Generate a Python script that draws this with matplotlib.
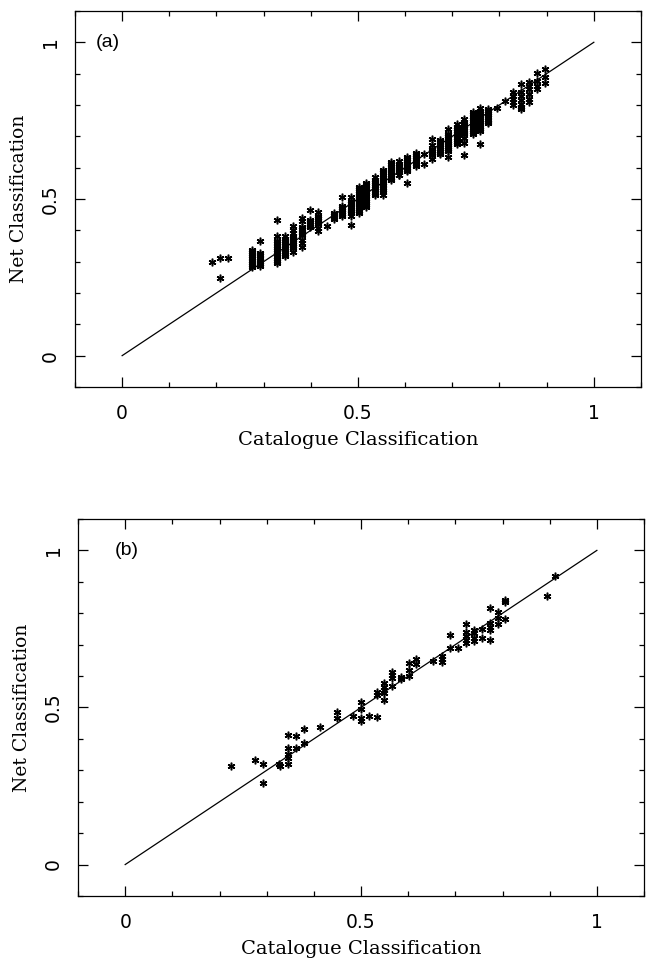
import numpy as np
import matplotlib
matplotlib.use("Agg")
import matplotlib.pyplot as plt
from matplotlib.ticker import MultipleLocator, FixedLocator

# panel (a): catalogue value of each column and the net outputs read in it
cat_a = [0.190, 0.207, 0.224, 0.275, 0.292, 0.328, 0.345, 0.363, 0.381, 0.398,
         0.416, 0.434, 0.450, 0.467, 0.485, 0.502, 0.518, 0.536, 0.552, 0.570,
         0.587, 0.604, 0.622, 0.640, 0.656, 0.674, 0.691, 0.709, 0.725, 0.743,
         0.758, 0.776, 0.794, 0.811, 0.829, 0.845, 0.862, 0.879, 0.896]
net_a = [
    [0.298],
    [0.311, 0.248],
    [0.311],
    [0.282, 0.289, 0.296, 0.303, 0.310, 0.317, 0.324, 0.331, 0.338],
    [0.285, 0.292, 0.299, 0.306, 0.313, 0.320, 0.328, 0.365],
    [0.434, 0.381, 0.365, 0.358, 0.351, 0.344, 0.337, 0.330, 0.323, 0.316, 0.309, 0.302, 0.296],
    [0.317, 0.324, 0.331, 0.338, 0.345, 0.352, 0.359, 0.366, 0.373, 0.381],
    [0.413, 0.402, 0.390, 0.383, 0.376, 0.369, 0.362, 0.355, 0.350, 0.343, 0.330],
    [0.440, 0.430, 0.410, 0.403, 0.396, 0.390, 0.384, 0.370, 0.358, 0.346],
    [0.466, 0.434, 0.427, 0.420, 0.414, 0.409],
    [0.457, 0.447, 0.440, 0.433, 0.426, 0.420, 0.407, 0.397],
    [0.415],
    [0.456, 0.450, 0.443, 0.437],
    [0.507, 0.479, 0.472, 0.465, 0.458, 0.451, 0.445],
    [0.507, 0.493, 0.487, 0.480, 0.473, 0.466, 0.460, 0.455, 0.446, 0.417],
    [0.539, 0.532, 0.525, 0.518, 0.511, 0.504, 0.497, 0.490, 0.483, 0.476, 0.469, 0.462, 0.456],
    [0.550, 0.543, 0.536, 0.529, 0.522, 0.515, 0.508, 0.501, 0.494, 0.487, 0.480, 0.473],
    [0.569, 0.562, 0.555, 0.548, 0.541, 0.534, 0.527, 0.520, 0.514],
    [0.592, 0.585, 0.578, 0.571, 0.564, 0.557, 0.550, 0.543, 0.536, 0.529, 0.522, 0.514],
    [0.617, 0.610, 0.603, 0.596, 0.589, 0.582, 0.575, 0.568, 0.560],
    [0.620, 0.613, 0.606, 0.599, 0.592, 0.585, 0.578, 0.575],
    [0.635, 0.628, 0.621, 0.614, 0.607, 0.600, 0.594, 0.589, 0.552],
    [0.647, 0.640, 0.633, 0.626, 0.619, 0.612, 0.605],
    [0.642, 0.610],
    [0.690, 0.672, 0.660, 0.653, 0.646, 0.640, 0.626],
    [0.688, 0.681, 0.674, 0.667, 0.660, 0.653, 0.646, 0.642],
    [0.722, 0.706, 0.700, 0.693, 0.686, 0.679, 0.672, 0.666, 0.660, 0.653, 0.635],
    [0.738, 0.731, 0.724, 0.717, 0.710, 0.703, 0.696, 0.689, 0.682, 0.674],
    [0.754, 0.747, 0.740, 0.733, 0.726, 0.719, 0.712, 0.706, 0.695, 0.679, 0.639],
    [0.777, 0.770, 0.763, 0.756, 0.749, 0.742, 0.735, 0.728, 0.721, 0.714, 0.706],
    [0.791, 0.780, 0.773, 0.766, 0.759, 0.752, 0.745, 0.738, 0.731, 0.724, 0.717, 0.674],
    [0.788, 0.781, 0.774, 0.767, 0.760, 0.753, 0.746, 0.743],
    [0.791],
    [0.812],
    [0.841, 0.830, 0.820, 0.810, 0.799],
    [0.866, 0.840, 0.829, 0.816, 0.803, 0.792, 0.786],
    [0.873, 0.860, 0.850, 0.835, 0.820, 0.809],
    [0.903, 0.875, 0.861, 0.850],
    [0.916, 0.889, 0.869],
]

# panel (b): one entry per star
cat_b = [0.224, 0.275, 0.293, 0.293, 0.327, 0.329,
         0.345, 0.345, 0.345, 0.345, 0.345, 0.362, 0.362, 0.380, 0.380,
         0.414, 0.449, 0.449, 0.482, 0.500, 0.500, 0.500, 0.500, 0.516,
         0.533, 0.533, 0.533, 0.549, 0.549, 0.549, 0.549, 0.549,
         0.566, 0.566, 0.566, 0.566, 0.584, 0.584, 0.601, 0.601, 0.601,
         0.617, 0.617, 0.653, 0.671, 0.671, 0.671, 0.688, 0.688, 0.705,
         0.722, 0.722, 0.722, 0.722, 0.722, 0.740, 0.740, 0.740, 0.740,
         0.757, 0.757, 0.774, 0.774, 0.774, 0.774, 0.774, 0.791, 0.791, 0.791,
         0.806, 0.806, 0.806, 0.894, 0.911]
net_b = [0.315, 0.332, 0.319, 0.260, 0.319, 0.315,
         0.412, 0.372, 0.353, 0.340, 0.321, 0.410, 0.372, 0.431, 0.388,
         0.438, 0.484, 0.466, 0.473, 0.516, 0.495, 0.465, 0.456, 0.472,
         0.470, 0.550, 0.541, 0.577, 0.566, 0.555, 0.545, 0.523,
         0.614, 0.603, 0.593, 0.569, 0.598, 0.590, 0.641, 0.619, 0.601,
         0.655, 0.637, 0.647, 0.665, 0.654, 0.644, 0.730, 0.690, 0.688,
         0.766, 0.741, 0.726, 0.715, 0.704, 0.747, 0.736, 0.720, 0.710,
         0.749, 0.722, 0.817, 0.770, 0.757, 0.747, 0.715, 0.805, 0.784, 0.766,
         0.843, 0.835, 0.782, 0.855, 0.917]

line_xy = [0, 1]

xa = np.repeat(cat_a, [len(c) for c in net_a])
ya = np.concatenate([np.array(c) for c in net_a])

fig = plt.figure(figsize=(6.48, 9.6), dpi=100)
ax_a = fig.add_axes([0.1157, 0.5969, 0.8735, 0.3917])
ax_b = fig.add_axes([0.1204, 0.0667, 0.8735, 0.3927])

star = (6, 2, 0)
for ax, xs, ys, tag, tx in [(ax_a, xa, ya, '(a)', -0.055), (ax_b, cat_b, net_b, '(b)', -0.023)]:
    ax.plot(line_xy, line_xy, color='black', lw=0.9)
    ax.plot(xs, ys, linestyle='none', marker=star, markersize=5.5,
            markeredgewidth=1.1, color='black')
    ax.set_xlim(-0.1, 1.1)
    ax.set_ylim(-0.1, 1.1)
    for axis in (ax.xaxis, ax.yaxis):
        axis.set_major_locator(FixedLocator([0, 0.5, 1]))
        axis.set_minor_locator(MultipleLocator(0.1))
    ax.set_xticklabels(['0', '0.5', '1'])
    ax.set_yticklabels(['0', '0.5', '1'], rotation=90, va='center')
    ax.tick_params(which='both', direction='in', top=True, right=True,
                   width=0.9, labelsize=13.5, color='black')
    ax.tick_params(which='major', length=7)
    ax.tick_params(which='minor', length=3.5)
    ax.tick_params(axis='x', pad=12)
    ax.tick_params(axis='y', pad=11)
    for s in ax.spines.values():
        s.set_linewidth(0.9)
    ax.set_xlabel('Catalogue Classification', family='DejaVu Serif', fontsize=14)
    ax.set_ylabel('Net Classification', family='DejaVu Serif', fontsize=13.5)
    ax.xaxis.set_label_coords(0.5, -0.118)
    ax.yaxis.set_label_coords(-0.083, 0.5)
    ax.text(tx, 1.0, tag, ha='left', va='center', fontsize=14,
            family='Liberation Sans')

fig.savefig('out.png', dpi=100)
